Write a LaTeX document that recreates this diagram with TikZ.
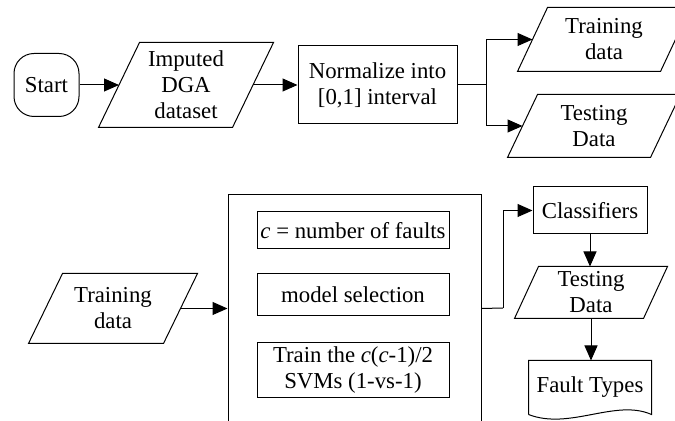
\documentclass[tikz,border=0pt]{standalone}
\usepackage{fontspec}
\setmainfont{Liberation Serif}
\usetikzlibrary{arrows.meta}
\tikzset{
  proc/.style={draw,rectangle,inner sep=0pt,align=center},
  dat/.style={rectangle,inner sep=0pt,align=center},
  term/.style={draw,rectangle,rounded corners=10pt,inner sep=0pt,align=center},
  arr/.style={-{Triangle[length=7.5pt,width=6.5pt]}}
}
% parallelogram round a dat node: name, slant
\newcommand{\para}[2]{\draw ([xshift=#2]#1.north west) -- (#1.north east)
  -- ([xshift=-#2]#1.south east) -- (#1.south west) -- cycle;}
\begin{document}
\begin{tikzpicture}[x=0.5pt,y=-0.5pt,line width=0.5pt,font=\fontsize{11.4}{13}\selectfont]
        \clip (0,0) rectangle (675,421);

        \node[term,minimum width=32.5pt,minimum height=31.5pt] (start) at (46.5,85) {Start};
        \node[dat,minimum width=87pt,minimum height=42pt] (imp) at (186,85) {Imputed\\DGA\\dataset};
        \node[proc,minimum width=79.5pt,minimum height=39pt] (norm) at (377.5,85) {Normalize into\\{[0,1]} interval};
        \node[dat,minimum width=86pt,minimum height=31.5pt] (trn) at (604,39.5) {Training\\data};
        \node[dat,minimum width=86pt,minimum height=31pt] (tst) at (594,126) {Testing\\Data};
        \para{imp}{20.5pt}
        \para{trn}{15pt}
        \para{tst}{15pt}
        \coordinate (br) at (486,85);

        \draw[arr] (start) -- ([xshift=10.25pt]imp.west);
        \draw[arr] ([xshift=-10.25pt]imp.east) -- (norm);
        \draw (norm.east) -- (br);
        \draw[arr] (br) |- ([xshift=7.5pt]trn.west);
        \draw[arr] (br) |- ([xshift=7.5pt]tst.west);

        \node[dat,minimum width=84pt,minimum height=34.5pt] (tdl) at (113,308.5) {Training\\data};
        \node[proc,minimum width=126.5pt,minimum height=132.5pt] (big) at (354.5,327.5) {};
        \node[proc,minimum width=96pt,minimum height=18.5pt] (c1) at (353,230.5) {\textit{c} = number of faults};
        \node[proc,minimum width=96pt,minimum height=21pt] (c2) at (353,295) {model selection};
        \node[proc,minimum width=96pt,minimum height=27.5pt] (c3) at (353,370.5) {Train the \textit{c}(\textit{c}-1)/2\\SVMs (1-vs-1)};
        \node[proc,minimum width=57pt,minimum height=23.5pt] (cls) at (590,210.5) {Classifiers};
        \node[dat,minimum width=76pt,minimum height=25.5pt] (tsd) at (591,292.5) {Testing\\Data};
        \node[dat,minimum width=61pt,minimum height=26.5pt] (ft) at (590,387.5) {Fault Types};
        \para{tdl}{17pt}
        \para{tsd}{12pt}
        \coordinate (bend) at (503,308);

        \draw[arr] ([xshift=-8.5pt]tdl.east) -- (tdl.east -| big.west);
        \draw (big.east |- tdl.east) -- (bend);
        \draw[arr] (bend) |- (cls.west);
        \draw[arr] (cls.south) -- (cls.south |- tsd.north);
        \draw[arr] (tsd.south) -- (tsd.south |- ft.north);
        \draw (ft.south west) -- (ft.north west) -- (ft.north east) -- (ft.south east)
          .. controls +(-36,-16) and +(41,16) .. (ft.south west);
      \end{tikzpicture}
\end{document}
